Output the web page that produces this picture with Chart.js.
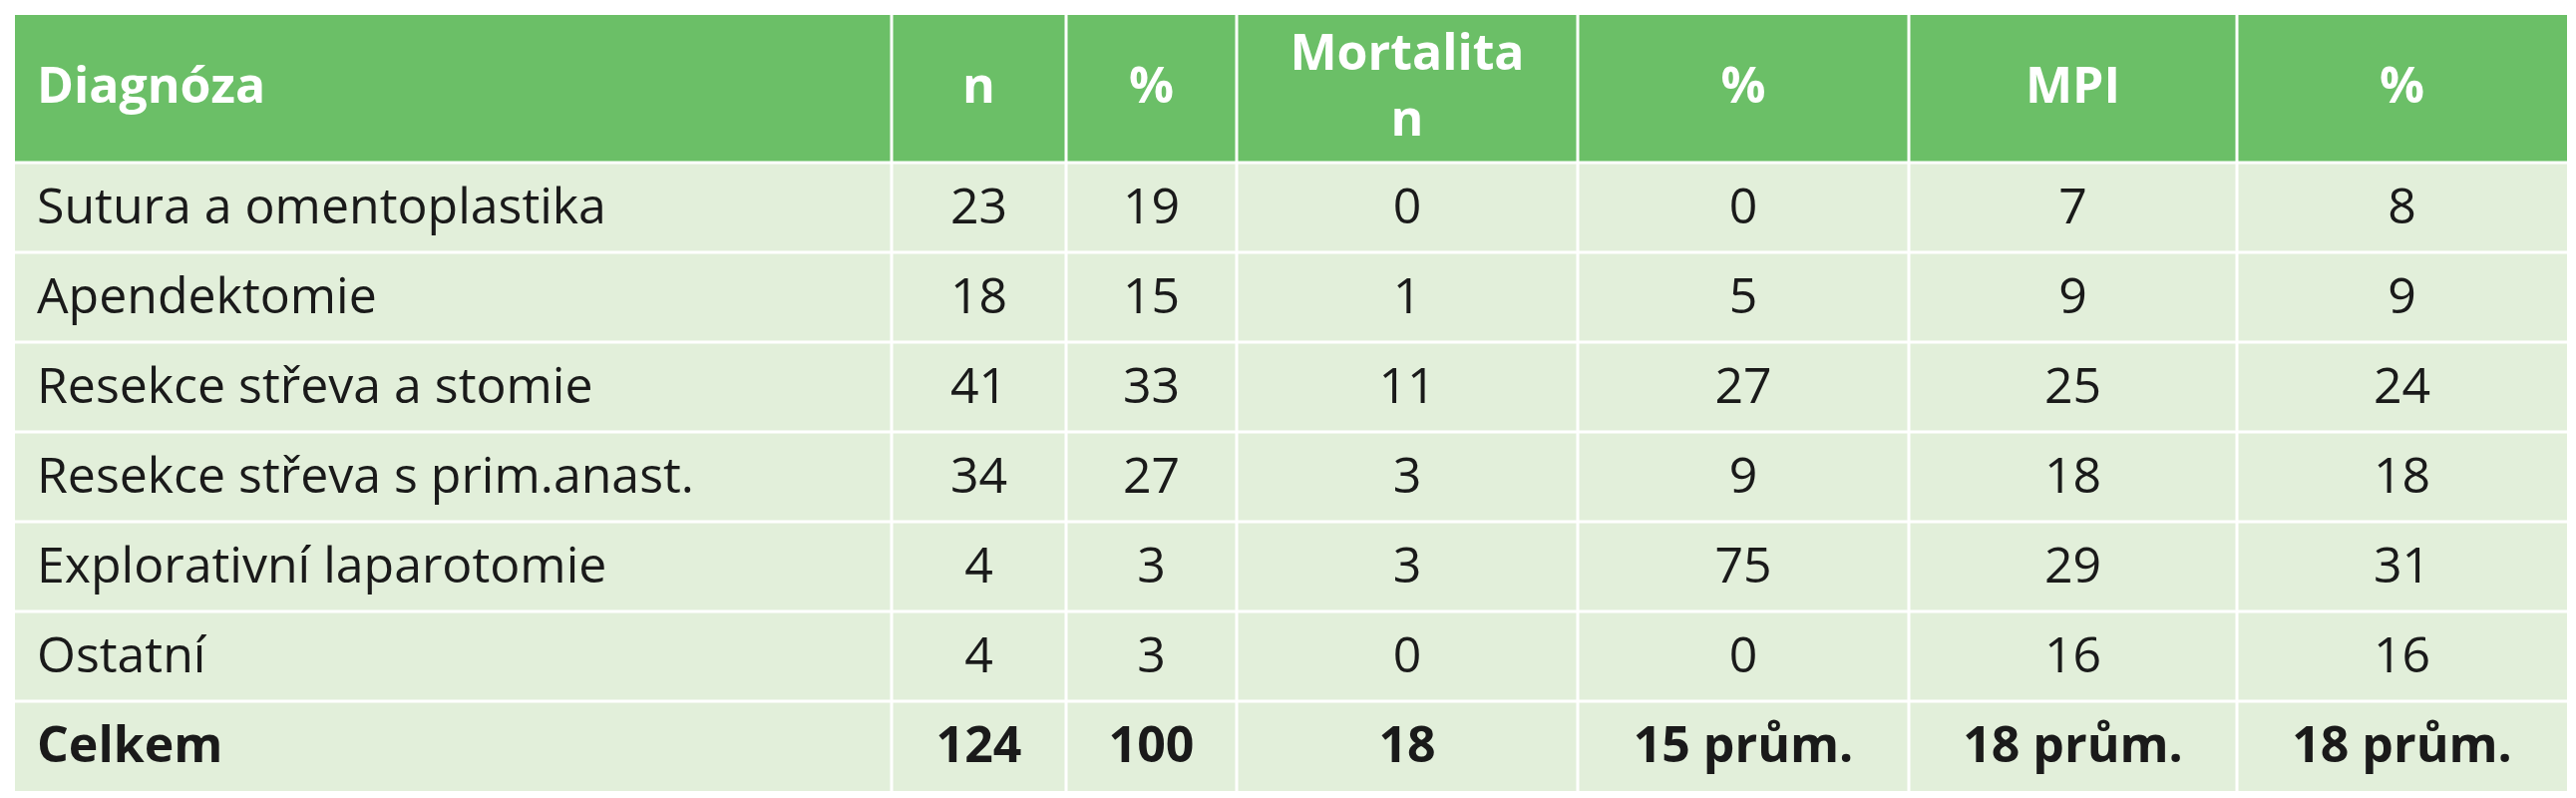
<!DOCTYPE html>
<html>
<head>
<meta charset="utf-8">
<script src="https://cdn.jsdelivr.net/npm/chart.js@4"></script>
<style>
  html, body { margin: 0; padding: 0; background: #fff; }
  #wrap { width: 2583px; height: 800px; }
</style>
</head>
<body>
<div id="wrap"><canvas id="tbl" width="2583" height="800"></canvas></div>
<script>
// table content
const headers = [["Diagnóza"], ["n"], ["%"], ["Mortalita", "n"], ["%"], ["MPI"], ["%"]];
const diagnoses = [
  "Sutura a omentoplastika",
  "Apendektomie",
  "Resekce střeva a stomie",
  "Resekce střeva s prim.anast.",
  "Explorativní laparotomie",
  "Ostatní",
  "Celkem",
];
const countN = ["23", "18", "41", "34", "4", "4", "124"];
const countPct = ["19", "15", "33", "27", "3", "3", "100"];
const mortN = ["0", "1", "11", "3", "3", "0", "18"];
const mortPct = ["0", "5", "27", "9", "75", "0", "15 prům."];
const mpi = ["7", "9", "25", "18", "29", "16", "18 prům."];
const mpiPct = ["8", "9", "24", "18", "31", "16", "18 prům."];

// layout (x in scale units, y in row units)
const colEdges = [0, 879, 1054, 1225, 1567, 1899, 2228, 2559];
const headerH = 1.644;

const columns = [diagnoses, countN, countPct, mortN, mortPct, mpi, mpiPct];
const FONT = '"Liberation Sans Narrow", "Open Sans", sans-serif';

const tablePlugin = {
  id: "tablePlugin",
  afterDraw(chart) {
    const ctx = chart.ctx;
    const xs = chart.scales.x;
    const ys = chart.scales.y;
    const nRows = diagnoses.length;
    ctx.save();
    ctx.textBaseline = "middle";
    for (let c = 0; c < columns.length; c++) {
      const x0 = xs.getPixelForValue(colEdges[c]);
      const x1 = xs.getPixelForValue(colEdges[c + 1]);
      // header cell
      let y0 = ys.getPixelForValue(0);
      let y1 = ys.getPixelForValue(headerH);
      ctx.fillStyle = "#6bbf67";
      ctx.fillRect(x0, y0, x1 - x0, y1 - y0);
      ctx.fillStyle = "#ffffff";
      ctx.font = "bold 50px " + FONT;
      const lines = headers[c];
      const cy = (y0 + y1) / 2;
      lines.forEach((t, i) => {
        const ty = cy + (i - (lines.length - 1) / 2) * 66;
        if (c === 0) { ctx.textAlign = "left"; ctx.fillText(t, x0 + 22, ty); }
        else { ctx.textAlign = "center"; ctx.fillText(t, (x0 + x1) / 2, ty); }
      });
      // body cells
      for (let r = 0; r < nRows; r++) {
        y0 = ys.getPixelForValue(headerH + r);
        y1 = ys.getPixelForValue(headerH + r + 1);
        ctx.fillStyle = "#e2efda";
        ctx.fillRect(x0, y0, x1 - x0, y1 - y0);
        ctx.fillStyle = "#1a1a1a";
        ctx.font = (r === nRows - 1 ? "bold " : "") + "50px " + FONT;
        const t = columns[c][r];
        const ty = (y0 + y1) / 2 + 2;
        if (c === 0) { ctx.textAlign = "left"; ctx.fillText(t, x0 + 22, ty); }
        else { ctx.textAlign = "center"; ctx.fillText(t, (x0 + x1) / 2, ty); }
      }
    }
    // white grid lines
    ctx.strokeStyle = "#ffffff";
    ctx.lineWidth = 3;
    const top = ys.getPixelForValue(0);
    const bottom = ys.getPixelForValue(headerH + nRows);
    for (let c = 1; c < colEdges.length - 1; c++) {
      const x = xs.getPixelForValue(colEdges[c]);
      ctx.beginPath(); ctx.moveTo(x, top); ctx.lineTo(x, bottom); ctx.stroke();
    }
    const left = xs.getPixelForValue(colEdges[0]);
    const right = xs.getPixelForValue(colEdges[colEdges.length - 1]);
    for (let r = 0; r < nRows; r++) {
      const y = ys.getPixelForValue(headerH + r);
      ctx.beginPath(); ctx.moveTo(left, y); ctx.lineTo(right, y); ctx.stroke();
    }
    ctx.restore();
  },
};

new Chart(document.getElementById("tbl"), {
  type: "scatter",
  data: { datasets: [{ data: [], pointRadius: 0 }] },
  options: {
    responsive: false,
    animation: false,
    layout: { padding: { left: 15, right: 9, top: 15, bottom: 7 } },
    plugins: { legend: { display: false }, tooltip: { enabled: false } },
    scales: {
      x: { type: "linear", min: 0, max: colEdges[colEdges.length - 1], display: false },
      y: { type: "linear", min: 0, max: headerH + diagnoses.length, reverse: true, display: false },
    },
  },
  plugins: [tablePlugin],
});
</script>
</body>
</html>
